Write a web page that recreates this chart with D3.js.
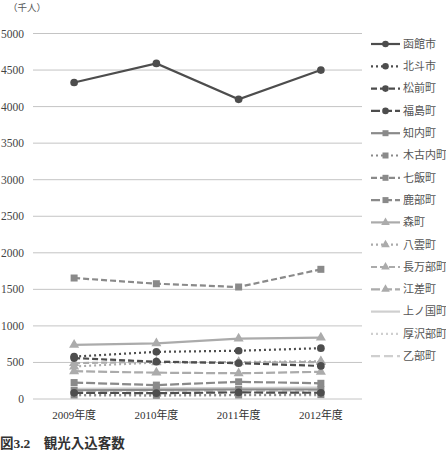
<!DOCTYPE html>
<html>
<head>
<meta charset="utf-8">
<script src="https://d3js.org/d3.v7.min.js"></script>
<style>
  body { margin: 0; background: #fff; }
  svg { display: block; }
  text { font-family: "Liberation Serif", "Noto Sans CJK JP", serif; }
</style>
</head>
<body>
<div id="chart"></div>
<script>
const years = ["2009年度", "2010年度", "2011年度", "2012年度"];
const names = ["函館市", "北斗市", "松前町", "福島町", "知内町", "木古内町", "七飯町", "鹿部町",
               "森町", "八雲町", "長万部町", "江差町", "上ノ国町", "厚沢部町", "乙部町"];
// 千人
const hakodate   = [4330, 4590, 4100, 4500];
const hokuto     = [580, 645, 660, 695];
const matsumae   = [560, 510, 490, 452];
const fukushima  = [85, 80, 90, 85];
const shiriuchi  = [120, 125, 130, 130];
const kikonai    = [55, 50, 55, 60];
const nanae      = [1655, 1577, 1532, 1774];
const shikabe    = [225, 190, 235, 215];
const mori       = [740, 762, 825, 840];
const yakumo     = [445, 500, 505, 515];
const oshamambe  = [490, 510, 500, 505];
const esashi     = [380, 360, 352, 372];
const kaminokuni = [140, 145, 150, 155];
const assabu     = [45, 45, 50, 50];
const otobe      = [110, 115, 110, 115];
const yTicks = [0, 500, 1000, 1500, 2000, 2500, 3000, 3500, 4000, 4500, 5000];

const seriesValues = [hakodate, hokuto, matsumae, fukushima, shiriuchi, kikonai, nanae, shikabe,
                      mori, yakumo, oshamambe, esashi, kaminokuni, assabu, otobe];

// style per series: colour, dash, marker
const dark = "#4d4d4d", mid = "#8a8a8a", light = "#ababab", pale = "#cfcfcf";
const styles = [
  { c: dark,  d: null,  m: "circle" },
  { c: dark,  d: "2,3", m: "circle" },
  { c: dark,  d: "6,3", m: "circle" },
  { c: dark,  d: "9,3", m: "circle" },
  { c: mid,   d: null,  m: "square" },
  { c: mid,   d: "2,3", m: "square" },
  { c: mid,   d: "6,3", m: "square" },
  { c: mid,   d: "9,3", m: "square" },
  { c: light, d: null,  m: "triangle" },
  { c: light, d: "2,3", m: "triangle" },
  { c: light, d: "6,3", m: "triangle" },
  { c: light, d: "9,3", m: "triangle" },
  { c: pale,  d: null,  m: null },
  { c: pale,  d: "2,3", m: null },
  { c: pale,  d: "9,4", m: null }
];

const W = 446, H = 470;
const svg = d3.select("#chart").append("svg").attr("width", W).attr("height", H);

const x = d3.scalePoint().domain(years).range([33, 362]).padding(0.5);
const y = d3.scaleLinear().domain([0, 5000]).range([399, 33.5]);

// grid
svg.append("g").selectAll("line").data(yTicks).join("line")
  .attr("x1", 33).attr("x2", 362)
  .attr("y1", d => y(d)).attr("y2", d => y(d))
  .attr("stroke", "#c4c4c4").attr("stroke-width", 1);

// y labels
svg.append("g").selectAll("text").data(yTicks).join("text")
  .attr("x", 24).attr("y", d => y(d)).attr("dy", "0.35em")
  .attr("text-anchor", "end").attr("font-size", 11.5).attr("fill", "#444")
  .text(d => d);

svg.append("text").attr("x", 8).attr("y", 11).attr("font-size", 9.5).attr("fill", "#555")
  .text("（千人）");

// x labels
svg.append("g").selectAll("text").data(years).join("text")
  .attr("x", d => x(d)).attr("y", 419).attr("text-anchor", "middle")
  .attr("font-size", 11).attr("fill", "#333")
  .text(d => d);

const line = d3.line().x((d, i) => x(years[i])).y(d => y(d));

function marker(g, type, cx, cy, color, s) {
  if (type === "circle") {
    g.append("circle").attr("cx", cx).attr("cy", cy).attr("r", s * 0.55).attr("fill", color);
  } else if (type === "square") {
    g.append("rect").attr("x", cx - s / 2).attr("y", cy - s / 2).attr("width", s).attr("height", s).attr("fill", color);
  } else if (type === "triangle") {
    g.append("path").attr("d", d3.symbol(d3.symbolTriangle, s * s * 0.9)()).attr("transform", `translate(${cx},${cy})`).attr("fill", color);
  }
}

// draw in reverse so 函館市 ends on top
const plot = svg.append("g");
for (let k = names.length - 1; k >= 0; k--) {
  const st = styles[k];
  const g = plot.append("g");
  g.append("path").attr("d", line(seriesValues[k]))
    .attr("fill", "none").attr("stroke", st.c).attr("stroke-width", 2.2)
    .attr("stroke-dasharray", st.d);
  seriesValues[k].forEach((v, i) => marker(g, st.m, x(years[i]), y(v), st.c, 7));
}

// legend
const lg = svg.append("g");
names.forEach((n, k) => {
  const st = styles[k];
  const ly = 44 + k * 22.3;
  const g = lg.append("g");
  g.append("line").attr("x1", 371).attr("x2", 400).attr("y1", ly).attr("y2", ly)
    .attr("stroke", st.c).attr("stroke-width", 2.2).attr("stroke-dasharray", st.d);
  marker(g, st.m, 385.5, ly, st.c, 6);
  g.append("text").attr("x", 403).attr("y", ly).attr("dy", "0.35em")
    .attr("font-size", 11).attr("fill", "#555").text(n);
});

// caption
svg.append("text").attr("x", 0).attr("y", 448).attr("font-size", 13.5).attr("font-weight", "bold")
  .attr("fill", "#333").text("図3.2　観光入込客数");
</script>
</body>
</html>
